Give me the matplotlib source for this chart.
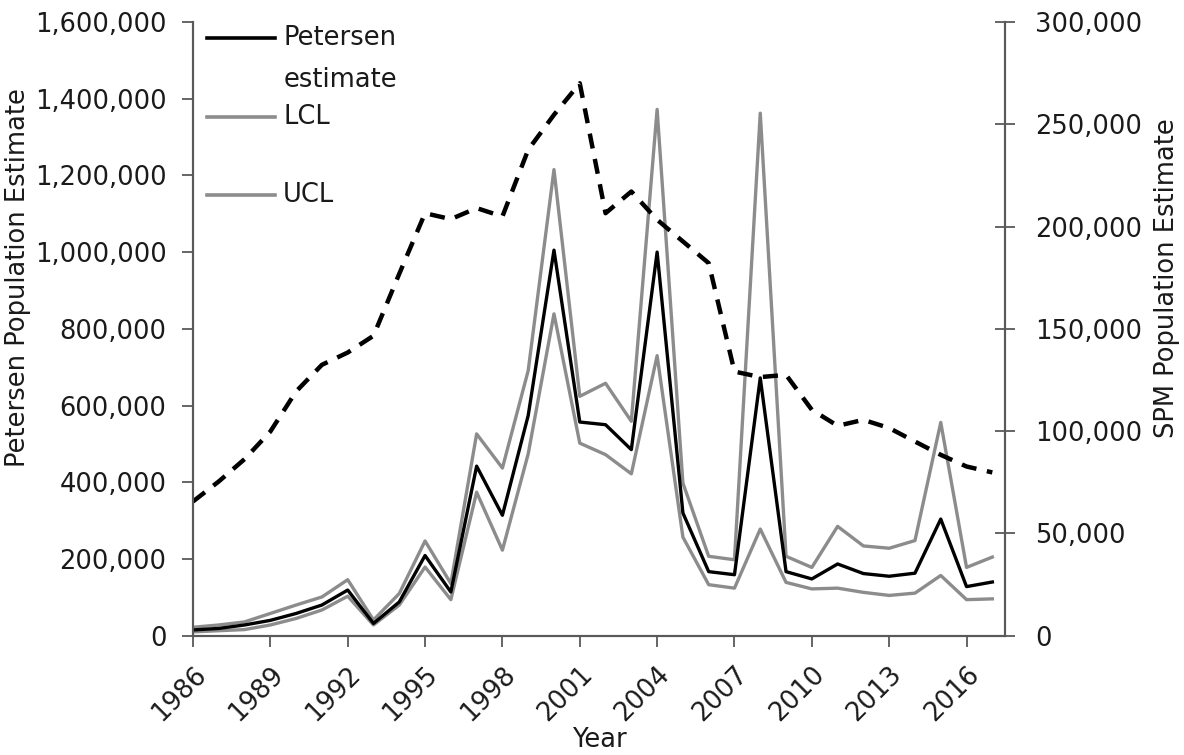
import matplotlib.pyplot as plt
from matplotlib.ticker import FuncFormatter
from matplotlib.transforms import ScaledTranslation

plt.rcParams['font.family'] = ['DejaVu Sans']
plt.rcParams['font.size'] = 18.5

years = list(range(1986, 2018))
petersen = [15000, 19000, 28000, 40000, 58000, 80000, 119000, 32000, 88000, 209000,
            114000, 442000, 314000, 574000, 1005000, 557000, 550000, 485000, 1000000, 320000,
            167000, 159000, 672000, 167000, 148000, 187000, 162000, 155000, 163000, 304000,
            128000, 140000]
ucl = [22000, 28000, 36000, 58000, 80000, 101000, 146000, 41000, 110000, 247000,
       136000, 526000, 437000, 691000, 1215000, 624000, 658000, 559000, 1372000, 398000,
       207000, 198000, 1362000, 207000, 178000, 285000, 234000, 228000, 248000, 556000,
       178000, 205000]
lcl = [10000, 13000, 16000, 28000, 45000, 67000, 103000, 28000, 80000, 179000,
       94000, 374000, 223000, 474000, 839000, 502000, 472000, 422000, 730000, 257000,
       133000, 124000, 278000, 139000, 122000, 124000, 113000, 105000, 111000, 157000,
       94000, 96000]
spm = [65600, 75400, 86300, 99800, 119400, 132400, 138400, 146600, 176900, 206500,
       203600, 209000, 204900, 237500, 254600, 270000, 206500, 217100, 203300, 192700,
       182100, 129100, 126400, 127500, 110400, 102600, 105500, 101500, 94900, 88400,
       82700, 79800]
xticks = list(range(1986, 2017, 3))

axis_grey = '#595959'
ci_grey = '#8c8c8c'
text_col = '#1a1a1a'

fig = plt.figure(figsize=(11.84, 7.55), dpi=100)
ax1 = fig.add_axes([0.163, 0.158, 0.686, 0.813])
ax2 = ax1.twinx()

ax1.plot(years, lcl, color=ci_grey, lw=2.4)
ax1.plot(years, ucl, color=ci_grey, lw=2.4)
ax1.plot(years, petersen, color='black', lw=2.4)
ax2.plot(years, spm, color='black', lw=3.2, dashes=(3.4, 2.4))

ax1.set_xlim(1986, 2017.5)
ax1.set_ylim(0, 1600000)
ax2.set_ylim(0, 300000)
ax1.set_xticks(xticks)
ax1.set_xticklabels([str(y) for y in xticks], rotation=45, ha='right', va='center',
                    rotation_mode='anchor')
ax1.set_yticks(range(0, 1600001, 200000))
ax2.set_yticks(range(0, 300001, 50000))
fmt = FuncFormatter(lambda v, p: f'{int(v):,}')
ax1.yaxis.set_major_formatter(fmt)
ax2.yaxis.set_major_formatter(fmt)

for ax in (ax1, ax2):
    ax.spines['top'].set_visible(False)
    for s in ('left', 'right', 'bottom'):
        ax.spines[s].set_color(axis_grey)
        ax.spines[s].set_linewidth(1.5)
ax1.tick_params(axis='y', direction='out', length=8, width=1.3, color=axis_grey,
                labelcolor=text_col, pad=11)
ax1.tick_params(axis='x', direction='out', length=8, width=1.3, color=axis_grey,
                labelcolor=text_col, pad=17)
ax2.tick_params(axis='y', direction='inout', length=15, width=1.3, color=axis_grey,
                labelcolor=text_col, pad=14)

# nudge the slanted year labels to the right of their ticks
shift = ScaledTranslation(9 / 100, 0, fig.dpi_scale_trans)
for lbl in ax1.get_xticklabels():
    lbl.set_transform(lbl.get_transform() + shift)

ax1.set_xlabel('Year', color=text_col)
ax1.xaxis.set_label_coords(0.5, -0.148)
ax1.set_ylabel('Petersen Population Estimate', color=text_col)
ax1.yaxis.set_label_coords(-0.2, 0.583)
ax2.set_ylabel('SPM Population Estimate', color=text_col)
ax2.yaxis.set_label_coords(1.183, 0.583)

# legend drawn by hand so the two-line label keeps its line on the first row
legend_rows = [('black', 'Petersen', 0.974), (ci_grey, 'LCL', 0.845), (ci_grey, 'UCL', 0.718)]
for col, lab, yy in legend_rows:
    ax1.plot([0.017, 0.101], [yy, yy], color=col, lw=2.6, transform=ax1.transAxes, clip_on=False)
    ax1.text(0.111, yy, lab, transform=ax1.transAxes, va='center', ha='left', color=text_col)
ax1.text(0.111, 0.906, 'estimate', transform=ax1.transAxes, va='center', ha='left', color=text_col)

fig.savefig('out.png', dpi=100)
